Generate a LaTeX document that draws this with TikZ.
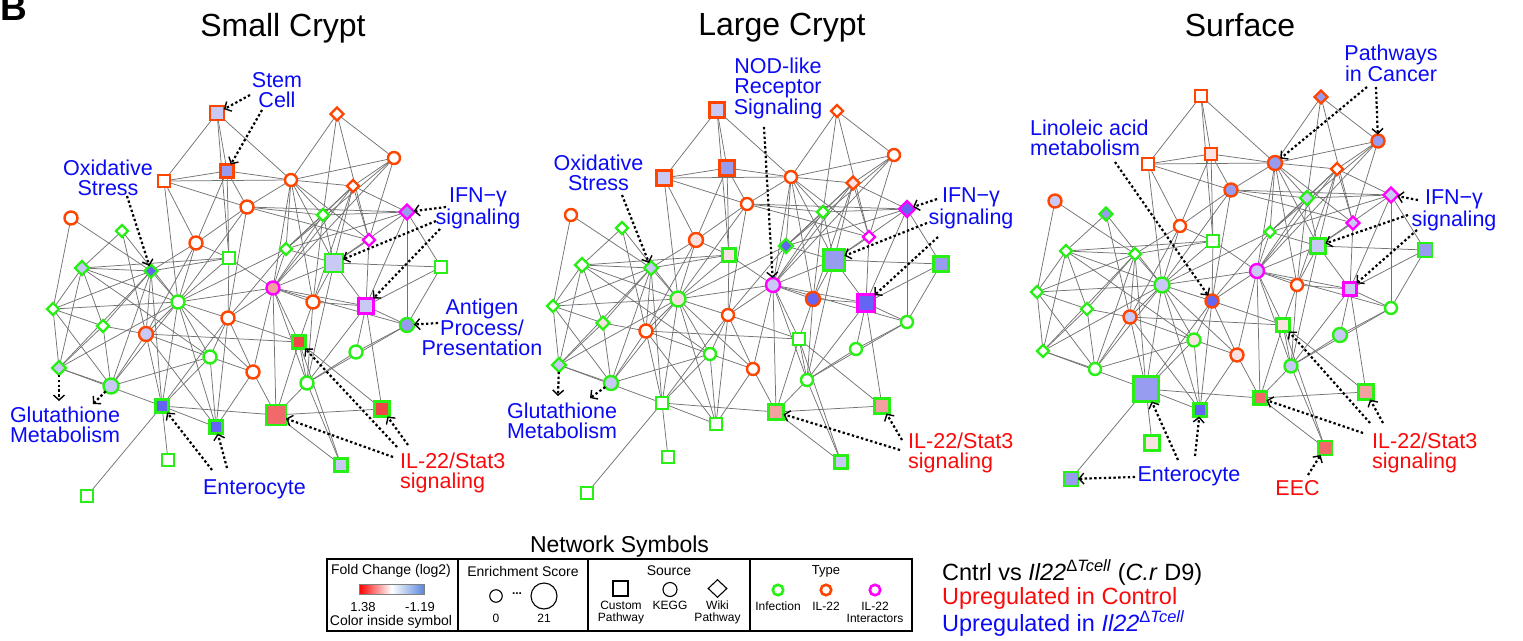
\documentclass[tikz,border=0pt]{standalone}
\usepackage{fontspec}
\setmainfont{Liberation Sans}
\usetikzlibrary{arrows.meta,shapes.geometric}
\pgfdeclarelayer{bg}
\pgfsetlayers{bg,main}
\definecolor{cinf}{RGB}{40,240,20}
\definecolor{cil}{RGB}{255,69,0}
\definecolor{cia}{RGB}{255,0,255}
\definecolor{cedge}{RGB}{115,115,115}
\definecolor{tblue}{RGB}{10,10,245}
\definecolor{tred}{RGB}{250,10,10}
\definecolor{W}{RGB}{255,255,255}
\definecolor{lb}{RGB}{200,202,245}
\definecolor{mb}{RGB}{152,156,240}
\definecolor{db}{RGB}{100,100,245}
\definecolor{pk}{RGB}{250,226,226}
\definecolor{sp}{RGB}{245,160,160}
\definecolor{rd}{RGB}{242,105,105}
\definecolor{rr}{RGB}{240,70,70}
\definecolor{cbblue}{RGB}{90,135,220}
\begin{document}
\begin{tikzpicture}[x=1pt,y=-1pt,
  nd/.style={inner sep=0pt,outer sep=0pt,line width=2.4pt},
  sq/.style={nd,rectangle},
  ci/.style={nd,circle},
  di/.style={nd,diamond,aspect=1},
  inf/.style={draw=cinf}, il/.style={draw=cil}, ia/.style={draw=cia},
  edge/.style={draw=cedge,line width=0.75pt},
  ptr/.style={line width=2.2pt,dash pattern=on 2.4pt off 2.4pt,
     -{Straight Barb[length=5pt,width=11pt,line width=1.4pt]}},
  ttl/.style={font=\fontsize{32}{32}\selectfont,inner sep=0pt,anchor=north},
  lab/.style={font=\fontsize{21.5}{20}\selectfont,text=tblue,inner sep=0pt,align=center,anchor=north},
  labr/.style={font=\fontsize{21.5}{20}\selectfont,text=tred,inner sep=0pt,align=left,anchor=north west},
  lg/.style={font=\fontsize{14}{14}\selectfont,inner sep=0pt},
  lgs/.style={font=\fontsize{12}{12}\selectfont,inner sep=0pt},
  lsym/.style={draw=black,line width=1.1pt,inner sep=0pt,fill=white},
  tsym/.style={circle,line width=2.6pt,inner sep=0pt,minimum size=10.5pt,fill=white}
]
\useasboundingbox (0,0) rectangle (1523,640);

% panel letter and titles
\node[anchor=base west,inner sep=0pt,font=\bfseries\fontsize{37}{37}\selectfont] (B) at (0,20) {B};
\node[ttl] (t1) at (283,13) {Small Crypt};
\node[ttl] (t2) at (782,13) {Large Crypt};
\node[ttl] (t3) at (1240,13) {Surface};

% network nodes: id / x / y / shape / type / fill,size (Small) / (Large) / (Surface)
\foreach \i/\x/\y/\sh/\ty/\fa/\za/\fb/\zb/\fc/\zc in {
1/217/113/sq/il/lb/14/lb/15/W/12,
2/227/171/sq/il/mb/13/mb/15/pk/12,
3/164/181/sq/il/W/12/lb/15/W/12,
4/337/114/di/il/W/13/W/12/mb/13,
5/394/158/ci/il/W/12/W/12/mb/13,
6/291/180/ci/il/W/12/W/12/mb/14,
7/353/186/di/il/W/12/pk/13/W/12,
8/247/207/ci/il/W/13/W/12/mb/13,
9/323/215/di/inf/W/12/W/12/lb/14,
10/407/212/di/ia/mb/15/db/16/lb/15,
11/369/240/di/ia/W/12/W/12/lb/13,
12/71/218/ci/il/W/13/W/12/lb/13,
13/122/231/di/inf/W/12/W/12/mb/13,
14/196/243/ci/il/W/13/pk/14/W/12,
15/286/249/di/inf/W/12/db/14/W/11,
16/229/258/sq/inf/W/12/pk/13/W/12,
17/334/263/sq/inf/lb/18/mb/21/lb/15,
18/441/267/sq/inf/W/12/mb/15/mb/14,
19/82/268/di/inf/lb/14/W/14/W/12,
20/151/271/di/inf/db/13/lb/14/W/12,
21/53/309/di/inf/W/12/W/12/W/12,
22/178/302/ci/inf/W/13/pk/15/lb/15,
23/273/288/ci/ia/sp/13/lb/14/lb/14,
24/313/302/ci/il/W/13/db/14/W/12,
25/366/306/sq/ia/lb/15/db/17/lb/13,
26/407/325/ci/inf/mb/14/W/12/W/12,
27/103/326/di/inf/W/12/pk/13/W/12,
28/146/334/ci/il/lb/14/W/13/lb/13,
29/228/318/ci/il/W/13/W/12/db/13,
30/299/342/sq/inf/rr/13/W/12/pk/13,
31/356/352/ci/inf/W/13/W/12/lb/14,
32/59/368/di/inf/lb/14/lb/14/W/12,
33/210/357/ci/inf/W/13/W/12/pk/13,
34/253/372/ci/il/W/13/W/12/pk/13,
35/111/386/ci/inf/lb/15/lb/14/W/12,
36/307/383/ci/inf/W/13/W/12/lb/13,
37/162/406/sq/inf/db/13/W/12/mb/25,
38/382/409/sq/inf/rr/15/sp/15/sp/15,
39/276/415/sq/inf/rd/20/sp/15/rd/13,
40/216/427/sq/inf/db/13/W/12/db/13,
41/168/460/sq/inf/W/12/W/12/pk/15,
42/341/465/sq/inf/lb/13/lb/13/rd/14,
43/87/496/sq/inf/W/12/W/12/mb/14}{
  \node[\sh,\ty,fill=\fa,minimum size=\za pt] (s\i) at (\x,\y) {};
  \node[\sh,\ty,fill=\fb,minimum size=\zb pt] (l\i) at (\x+500,\y-3) {};
  \node[\sh,\ty,fill=\fc,minimum size=\zc pt] (f\i) at (\x+984,\y-17) {};
}

% network edges
\begin{pgfonlayer}{bg}
\foreach \a/\b in {1/2,1/3,1/6,1/16,2/3,2/6,2/8,2/14,2/16,3/6,3/8,3/14,3/22,
 4/5,4/6,4/9,4/11,5/6,5/7,5/15,5/23,5/11,6/7,6/8,6/9,6/15,6/17,6/23,6/24,6/11,
 7/15,7/23,7/17,7/11,7/10,7/9,7/24,8/9,8/10,8/11,8/14,8/22,8/29,
 9/17,9/23,9/15,9/24,9/10,10/18,10/17,10/15,10/26,10/25,11/17,11/25,
 12/21,12/20,13/19,13/28,13/22,14/16,14/20,14/22,14/28,15/23,15/17,15/29,15/22,
 16/20,16/22,16/23,16/29,16/19,17/18,17/23,17/25,17/36,17/24,18/25,18/26,
 19/20,19/21,19/27,19/32,19/22,19/33,20/21,20/22,20/27,20/28,20/37,20/35,20/32,
 21/22,21/27,21/32,21/35,22/37,22/40,22/33,22/29,22/23,22/28,22/34,22/35,22/32,
 23/24,23/25,23/30,23/39,23/36,23/34,23/29,23/26,24/25,24/30,24/36,
 25/26,25/31,25/36,25/38,26/31,26/36,27/28,27/32,27/35,
 28/33,28/37,28/40,28/35,28/30,29/30,29/33,29/40,29/37,29/34,
 30/39,30/42,30/36,30/38,31/36,32/35,32/37,33/34,33/40,33/35,33/37,
 34/40,34/39,36/39,36/42,37/39,37/40,37/41,37/43,38/39,39/42}{
  \draw[edge] (s\a) -- (s\b);
  \draw[edge] (l\a) -- (l\b);
  \draw[edge] (f\a) -- (f\b);
}
\end{pgfonlayer}

% ---------- Small Crypt labels ----------
\node[lab] (sStem) at (277,72) {Stem\\Cell};
\node[lab] (sOx) at (108,160) {Oxidative\\Stress};
\node[lab] (sIfn) at (478,188) {IFN−γ\\signaling};
\node[lab] (sAg) at (482,299) {Antigen\\Process/\\Presentation};
\node[lab] (sGl) at (65,407) {Glutathione\\Metabolism};
\node[lab] (sEn) at (254.5,480) {Enterocyte};
\node[labr] (sIl) at (400,453) {IL-22/Stat3\\signaling};
\coordinate (sa1) at (250,95);  \coordinate (sa2) at (262,110);
\coordinate (sa3) at (127,196); \coordinate (sa4) at (446,207);
\coordinate (sa5) at (436,221); \coordinate (sa6) at (440,229);
\coordinate (sa7) at (438,323); \coordinate (sa8) at (59,401);
\coordinate (sa9) at (93,404);  \coordinate (sa10) at (212,470);
\coordinate (sa11) at (227,468); \coordinate (sa12) at (393,457);
\coordinate (sa13) at (397,447); \coordinate (sa14) at (408,445);
\draw[ptr] (sa1) -- (s1);
\draw[ptr] (sa2) -- (s2);
\draw[ptr] (sa3) -- (s20);
\draw[ptr] (sa4) -- (s10);
\draw[ptr] (sa5) -- (s17);
\draw[ptr] (sa6) -- (s25);
\draw[ptr] (sa7) -- (s26);
\draw[ptr] (s32) -- (sa8);
\draw[ptr] (s35) -- (sa9);
\draw[ptr] (sa10) -- (s37);
\draw[ptr] (sa11) -- (s40);
\draw[ptr] (sa12) -- (s39);
\draw[ptr] (sa13) -- (s30);
\draw[ptr] (sa14) -- (s38);

% ---------- Large Crypt labels ----------
\node[lab] (lNod) at (778,58) {NOD-like\\Receptor\\Signaling};
\node[lab] (lOx) at (598.5,155) {Oxidative\\Stress};
\node[lab] (lIfn) at (971,188) {IFN−γ\\signaling};
\node[lab] (lGl) at (562,403) {Glutathione\\Metabolism};
\node[labr] (lIl) at (908,433) {IL-22/Stat3\\signaling};
\coordinate (la1) at (764,127); \coordinate (la2) at (622,195);
\coordinate (la3) at (937,199); \coordinate (la4) at (927,223);
\coordinate (la5) at (938,237); \coordinate (la6) at (558,396);
\coordinate (la7) at (590,398); \coordinate (la8) at (900,450);
\coordinate (la9) at (902,440);
\draw[ptr] (la1) -- (l23);
\draw[ptr] (la2) -- (l20);
\draw[ptr] (la3) -- (l10);
\draw[ptr] (la4) -- (l17);
\draw[ptr] (la5) -- (l25);
\draw[ptr] (l32) -- (la6);
\draw[ptr] (l35) -- (la7);
\draw[ptr] (la8) -- (l39);
\draw[ptr] (la9) -- (l38);

% ---------- Surface labels ----------
\node[lab] (fPw) at (1391,45) {Pathways\\in Cancer};
\node[lab,align=left,anchor=north west] (fLin) at (1030,120) {Linoleic acid\\metabolism};
\node[lab] (fIfn) at (1454,190) {IFN−γ\\signaling};
\node[lab] (fEn) at (1189,467) {Enterocyte};
\node[labr,anchor=north,align=center] (fEec) at (1297.5,480) {EEC};
\node[labr] (fIl) at (1372,433) {IL-22/Stat3\\signaling};
\coordinate (fa1) at (1367,87);  \coordinate (fa2) at (1376,87);
\coordinate (fa3) at (1115,162); \coordinate (fa4) at (1418,200);
\coordinate (fa5) at (1408,215); \coordinate (fa6) at (1417,230);
\coordinate (fa7) at (1135,477); \coordinate (fa8) at (1178,460);
\coordinate (fa9) at (1195,456); \coordinate (fa10) at (1308,475);
\coordinate (fa11) at (1363,433); \coordinate (fa12) at (1370,423);
\coordinate (fa13) at (1383,423);
\draw[ptr] (fa1) -- (f6);
\draw[ptr] (fa2) -- (f5);
\draw[ptr] (fa3) -- (f29);
\draw[ptr] (fa4) -- (f10);
\draw[ptr] (fa5) -- (f17);
\draw[ptr] (fa6) -- (f25);
\draw[ptr] (fa7) -- (f43);
\draw[ptr] (fa8) -- (f37);
\draw[ptr] (fa9) -- (f40);
\draw[ptr] (fa10) -- (f42);
\draw[ptr] (fa11) -- (f39);
\draw[ptr] (fa12) -- (f30);
\draw[ptr] (fa13) -- (f38);

% ---------- Legend ----------
\node[inner sep=0pt,anchor=north,font=\fontsize{23}{23}\selectfont] (nsT) at (619.5,536) {Network Symbols};
\draw[line width=1.2pt] (327,559) rectangle (912,631);
\draw[line width=1.2pt] (458,559) -- (458,631);
\draw[line width=1.2pt] (588,559) -- (588,631);
\draw[line width=1.2pt] (750,559) -- (750,631);

\node[lg] (fcT) at (391,571) {Fold Change (log2)};
\shade[left color=red,right color=cbblue,middle color=white] (359,584) rectangle (424,594);
\draw[line width=0.5pt,gray] (359,584) rectangle (424,594);
\node[lgs,font=\fontsize{13}{13}\selectfont] (fc1) at (363,607) {1.38};
\node[lgs,font=\fontsize{13}{13}\selectfont] (fc2) at (420,607) {-1.19};
\node[lg] (fcB) at (391,622) {Color inside symbol};

\node[lg] (esT) at (523,571) {Enrichment Score};
\node[lsym,circle,minimum size=12.5pt] (es0) at (496,596) {};
\node[lgs,font=\bfseries\fontsize{12}{12}\selectfont] (esd) at (517,594) {...};
\node[lsym,circle,minimum size=26pt] (es21) at (544,596) {};
\node[lgs] (es0t) at (496,618) {0};
\node[lgs] (es21t) at (544,618) {21};

\node[lg] (srT) at (669,571) {Source};
\node[lsym,rectangle,minimum size=15pt] (srSq) at (620.5,588.5) {};
\node[lsym,circle,minimum size=14pt] (srCi) at (670,589.5) {};
\node[lsym,diamond,minimum width=19pt,minimum height=18pt] (srDi) at (717.5,588.5) {};
\node[lgs,align=center,anchor=north] (srSqT) at (621,601) {Custom\\Pathway};
\node[lgs,anchor=north] (srCiT) at (670,601) {KEGG};
\node[lgs,align=center,anchor=north] (srDiT) at (717.5,601) {Wiki\\Pathway};

\node[lg,font=\fontsize{13}{13}\selectfont] (tyT) at (826,571) {Type};
\node[tsym,draw=cinf] (tyA) at (778,590) {};
\node[tsym,draw=cil] (tyB) at (826,590) {};
\node[tsym,draw=cia] (tyC) at (875,590) {};
\node[lgs,anchor=north] (tyAT) at (778,602) {Infection};
\node[lgs,anchor=north] (tyBT) at (826,602) {IL-22};
\node[lgs,align=center,anchor=north] (tyCT) at (875,602) {IL-22\\Interactors};

\node[anchor=north west,align=left,inner sep=0pt,font=\fontsize{23.5}{24.5}\selectfont] (cmp) at (942,559)
 {Cntrl vs \textit{Il22}\textsuperscript{Δ\textit{Tcell}} (\textit{C.r} D9)\\
  \textcolor{tred}{Upregulated in Control}\\
  \textcolor{tblue}{Upregulated in \textit{Il22}\textsuperscript{Δ\textit{Tcell}}}};
\end{tikzpicture}
\end{document}
